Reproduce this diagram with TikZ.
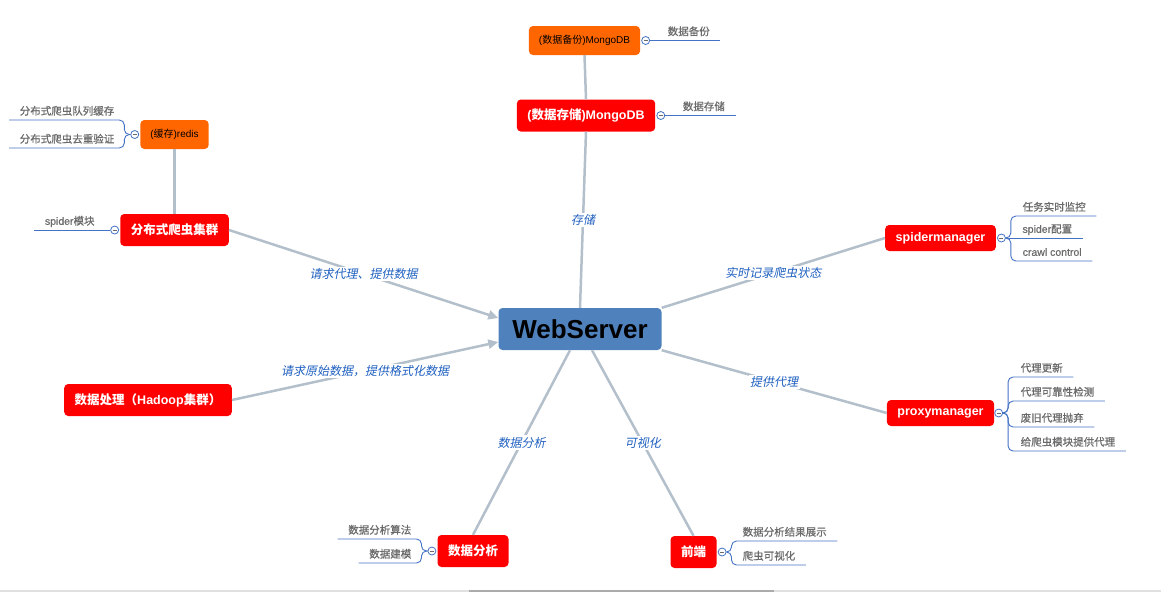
\documentclass[tikz,border=0pt]{standalone}
\usepackage{fontspec}
\setmainfont{Noto Sans CJK SC}[AutoFakeSlant=0.2]
\newfontfamily\latinfont{Liberation Sans}[AutoFakeSlant=0.2]
\newfontfamily\leaffont{Noto Sans CJK SC}[FakeBold=0.7]
\newfontfamily\leaflatinfont{Liberation Sans}[FakeBold=0.7]
\newcommand{\lat}[1]{{\latinfont #1}}
\newcommand{\leaflat}[1]{{\leaflatinfont #1}}
\usetikzlibrary{arrows.meta,positioning}
\definecolor{hubblue}{HTML}{4F81BD}
\definecolor{topicred}{HTML}{FF0000}
\definecolor{suborange}{HTML}{FF6600}
\definecolor{linkgray}{HTML}{B3C0CB}
\definecolor{branchblue}{HTML}{4472C4}
\definecolor{labelblue}{HTML}{1F60C0}
\definecolor{leafgray}{HTML}{6A6A6A}

\begin{document}
\begin{tikzpicture}[x=1pt,y=-1pt,
  hub/.style={fill=hubblue, rounded corners=4pt, minimum width=163pt, minimum height=42pt, font=\latinfont\bfseries\fontsize{26}{30}\selectfont},
  topic/.style={fill=topicred, text=white, rounded corners=4pt, minimum height=32pt, inner xsep=10.5pt, font=\bfseries\fontsize{12.5}{15}\selectfont},
  sub/.style={fill=suborange, rounded corners=4pt, minimum height=29pt, inner xsep=10pt, font=\fontsize{10}{12}\selectfont},
  knob/.style={circle, draw=branchblue, fill=white, line width=0.8pt, minimum size=8pt, inner sep=0pt,
    path picture={\draw[leafgray, line width=0.5pt] ([xshift=-2pt]path picture bounding box.center) -- ([xshift=2pt]path picture bounding box.center);}},
  leaf/.style={text=leafgray, inner xsep=10.5pt, inner ysep=5pt, text depth=0pt, font=\leaffont\fontsize{10.5}{12}\selectfont},
  branch/.style={draw=branchblue, line width=0.9pt, rounded corners=5pt},
  link/.style={draw=linkgray, line width=2.5pt},
  linklabel/.style={fill=white, text=labelblue, inner sep=1.5pt, font=\itshape\fontsize{12}{14}\selectfont},
  tip/.style={-{Triangle[length=10pt,width=9pt]}}]
\useasboundingbox (0,0) rectangle (1161,592);

\node[hub] (web) at (580,329) {WebServer};
\node[sub] (backup) at (584.5,40.5) {\lat{(}数据备份\lat{)MongoDB}};
\node[topic] (store) at (586,115.5) {\lat{(}数据存储\lat{)MongoDB}};
\node[sub] (redis) at (174.5,134.5) {\lat{(}缓存\lat{)redis}};
\node[topic] (crawler) at (174.5,230) {分布式爬虫集群};
\node[topic] (hadoop) at (148,400) {数据处理（\lat{Hadoop}集群）};
\node[topic, minimum height=26pt] (spm) at (940.5,238) {\lat{spidermanager}};
\node[topic, minimum height=26pt] (pxm) at (940.5,413) {\lat{proxymanager}};
\node[topic] (analysis) at (473,551) {数据分析};
\node[topic] (front) at (693.5,552) {前端};

\node[knob, right=1pt of backup] (backupk) {};
\node[knob, right=1pt of store] (storek) {};
\node[knob, left=1pt of redis] (redisk) {};
\node[knob, left=1pt of crawler] (crawlerk) {};
\node[knob, right=1pt of spm] (spmk) {};
\node[knob, right=0pt of pxm] (pxmk) {};
\node[knob, left=1pt of analysis] (analysisk) {};
\node[knob, right=1pt of front] (frontk) {};

\node[leaf, anchor=south west] (backup1) at ([xshift=7pt]backupk.east) {数据备份};
\node[leaf, anchor=south west] (store1) at ([xshift=7pt]storek.east) {数据存储};
\node[leaf, anchor=south east] (crawler1) at ([xshift=-5pt]crawlerk.west) {\leaflat{spider}模块};
\node[leaf, anchor=south east] (redis1) at (125,120) {分布式爬虫队列缓存};
\node[leaf, anchor=south east] (redis2) at (125,148) {分布式爬虫去重验证};
\node[leaf, anchor=south west] (spm1) at (1012,216) {任务实时监控};
\node[leaf, anchor=south west] (spm2) at ([xshift=6pt]spmk.east) {\leaflat{spider}配置};
\node[leaf, anchor=south west] (spm3) at (1012,261) {\leaflat{crawl control}};
\node[leaf, anchor=south west] (pxm1) at (1010,377) {代理更新};
\node[leaf, anchor=south west] (pxm2) at (1010,401) {代理可靠性检测};
\node[leaf, anchor=south west] (pxm3) at (1010,427) {废旧代理抛弃};
\node[leaf, anchor=south west] (pxm4) at (1010,451) {给爬虫模块提供代理};
\node[leaf, anchor=south east] (analysis1) at (422,539) {数据分析算法};
\node[leaf, anchor=south east] (analysis2) at (422,563) {数据建模};
\node[leaf, anchor=south west] (front1) at (732,541) {数据分析结果展示};
\node[leaf, anchor=south west] (front2) at (732,565) {爬虫可视化};

\draw[branch] (backupk.east) -- (backup1.south east);
\draw[branch] (storek.east) -- (store1.south east);
\draw[branch] (crawlerk.west) -- (crawler1.south west);
\draw[branch] (spmk.east) -- (spm2.south east);
\foreach \n in {1,2} \draw[branch] (redisk.west) -- ++(-6,0) |- (redis\n.south west);
\foreach \n in {1,3} \draw[branch] (spmk.east) -- ++(5,0) |- (spm\n.south east);
\foreach \n in {1,...,4} \draw[branch] (pxmk.east) -- ++(5,0) |- (pxm\n.south east);
\foreach \n in {1,2} \draw[branch] (analysisk.west) -- ++(-6,0) |- (analysis\n.south west);
\foreach \n in {1,2} \draw[branch] (frontk.east) -- ++(5,0) |- (front\n.south east);

\draw[link] (web.north) -- node[linklabel]{存储} (store.south);
\draw[link] (store.north) -- (backup.south);
\draw[link] (redis.south) -- (crawler.north);
\draw[link,tip] (crawler.east) -- node[linklabel]{请求代理、提供数据} ([yshift=11pt]web.west);
\draw[link,tip] (hadoop.east) -- node[linklabel]{请求原始数据，提供格式化数据} ([yshift=-13pt]web.west);
\draw[link] (web.north east) -- node[linklabel]{实时记录爬虫状态} (spm.west);
\draw[link] (web.south east) -- node[linklabel]{提供代理} (pxm.west);
\draw[link] ([xshift=-10pt]web.south) -- node[linklabel]{数据分析} (analysis.north);
\draw[link] ([xshift=12pt]web.south) -- node[linklabel]{可视化} (front.north);

\fill[black!12] (0,589.5) rectangle (1161,592);
\fill[black!33] (469,589.5) rectangle (774,592);
\end{tikzpicture}
\end{document}
